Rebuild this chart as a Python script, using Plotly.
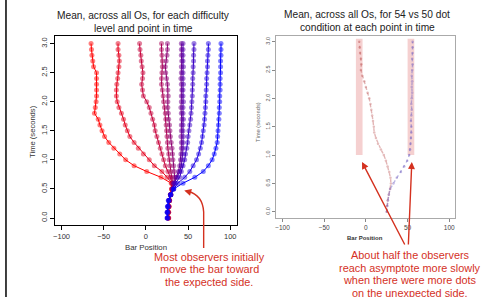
import plotly.graph_objects as go

W, H = 484, 297

# ---------------- data ----------------
time_s = [0.0, 0.1, 0.2, 0.3, 0.4, 0.5, 0.6, 0.7, 0.8, 0.9, 1.0, 1.1, 1.2, 1.3, 1.4, 1.5,
          1.6, 1.7, 1.8, 1.9, 2.0, 2.1, 2.2, 2.3, 2.4, 2.5, 2.6, 2.7, 2.8, 2.9, 3.0]

# left panel: mean bar position per difficulty level (red ... blue)
level_1 = [27, 27, 27.5, 28, 29, 30.5, 30, 18, 1, -14, -24, -31, -38, -44, -49, -52, -54.5, -56.5,
           -61, -60, -59, -58.5, -58.5, -58.5, -58.5, -58.5, -62, -63, -64, -64.5, -65]
level_2 = [27, 27, 27.5, 28, 29, 30.5, 31, 25, 19, 10, 4, -3, -9, -14, -19, -22, -24.5, -26.5,
           -29, -32, -34, -35, -35, -34.5, -33.5, -33, -32, -31.5, -32, -33, -33]
level_3 = [26.5, 26.5, 27, 28, 29, 31, 31, 29, 26, 23, 21, 19, 17, 15, 13, 11, 10, 8,
           6, 4, 1, -3, -4, -5, -4, -3.5, -4.5, -5.5, -6, -7, -7.5]
level_4 = [26.5, 26.5, 27, 28, 29.5, 31, 32, 30.5, 29.5, 28.5, 27.5, 27, 26, 25.5, 25, 24.5, 24, 23.5,
           23, 22, 21, 20.5, 19.5, 18.5, 18.5, 19, 19.5, 19.5, 19, 18.5, 18.5]
level_5 = [26, 26, 27, 28, 29.5, 31.5, 33, 34, 33.5, 33, 32, 31.5, 31, 30, 29, 28.5, 28, 27,
           26.5, 26, 26, 26.5, 26, 25.5, 24.5, 23.5, 23, 24, 25, 25.5, 25.5]
level_6 = [26, 26, 26.5, 27.5, 29.5, 32, 33, 36, 38.5, 40, 41, 41.5, 42, 42, 41.5, 42, 42, 42.5,
           42, 41.5, 42, 42, 42.5, 42, 41.5, 42, 42, 42.5, 42, 42, 42]
level_7 = [26, 26, 26.5, 27.5, 29.5, 32, 33.5, 37, 40, 42, 43, 43.5, 44, 44, 44.5, 44, 44, 44.5,
           44, 44, 44.5, 44, 44, 44.5, 44, 44, 44.5, 44, 44, 44, 44]
level_8 = [25.5, 25.5, 26, 27, 29.5, 32.5, 35, 40, 42, 44, 46, 47, 48.5, 49.5, 50, 51, 52, 53,
           53.5, 54, 54.5, 55, 55, 55.5, 55.5, 56, 56, 56.5, 56.5, 57, 57]
level_9 = [25.5, 25.5, 26, 27, 29.5, 33, 38, 46, 52, 56, 60, 62.5, 64.5, 66, 67, 68, 69, 69.5,
           70, 70.5, 71, 71, 71.5, 72, 72, 72.5, 73, 73, 73.5, 74, 74]
level_10 = [25, 25, 25.5, 26.5, 29, 33, 44, 58, 68, 74, 78.5, 81, 83, 84.5, 85, 85.5, 86, 86.5,
            87, 87, 87.5, 87.5, 88, 88, 88, 88.5, 88.5, 88.5, 89, 89, 89]
level_colors = ["#FF0000", "#E3001C", "#C60039", "#AA0055", "#8E0071",
                "#71008E", "#5500AA", "#3900C6", "#1C00E3", "#0000FF"]

# right panel: 54 vs 50 dot condition
cond_54_red = [25, 25.5, 26, 27.5, 29, 30, 29.5, 28, 26, 24, 21.5, 18, 14.5, 12, 10, 9.5, 8.5, 7.5,
               6.5, 5.5, 4, 2, 0, -2, -4.5, -6, -5.5, -6, -7, -7.5, -8]
cond_50_blue = [25, 25.5, 26.5, 27.5, 29, 33, 37, 42, 46, 49.5, 52, 53, 53.5, 54, 54.5, 54.5, 54, 54.5,
                55, 54.5, 55, 55.5, 55, 55.5, 55, 55.5, 56, 55.5, 56, 56, 56]
band_left_x = [-12, -4]
band_right_x = [50, 58]
band_time = [1.0, 3.05]

x_ticks = [-100, -50, 0, 50, 100]
y_ticks = [0.0, 0.5, 1.0, 1.5, 2.0, 2.5, 3.0]
y_tick_labels = ["0.0", "0.5", "1.0", "1.5", "2.0", "2.5", "3.0"]

FONT = "Liberation Sans, Arial, Helvetica, sans-serif"
RED = "#D4311F"


def px(x):
    return x / W


def py(y):
    return 1 - y / H


def rgba(hexc, a):
    h = hexc.lstrip("#")
    return "rgba(%d,%d,%d,%.2f)" % (int(h[0:2], 16), int(h[2:4], 16), int(h[4:6], 16), a)


fig = go.Figure()

levels = [level_1, level_2, level_3, level_4, level_5, level_6, level_7, level_8, level_9, level_10]
for vals, col in zip(levels, level_colors):
    fig.add_trace(go.Scatter(
        x=vals, y=time_s, mode="lines+markers",
        line=dict(color=col, width=1),
        marker=dict(color=rgba(col, 0.5), size=5, line=dict(width=0)),
        xaxis="x", yaxis="y", showlegend=False, hoverinfo="skip"))

fig.add_trace(go.Scatter(
    x=cond_54_red, y=time_s, mode="lines+markers",
    line=dict(color="rgba(200,110,110,0.5)", width=1.4, dash="dot"),
    marker=dict(color="rgba(190,90,90,0.4)", size=2.5),
    xaxis="x2", yaxis="y2", showlegend=False, hoverinfo="skip"))
fig.add_trace(go.Scatter(
    x=cond_50_blue, y=time_s, mode="lines+markers",
    line=dict(color="rgba(120,110,200,0.5)", width=1.4, dash="dot"),
    marker=dict(color="rgba(110,90,190,0.4)", size=2.5),
    xaxis="x2", yaxis="y2", showlegend=False, hoverinfo="skip"))

shapes = []
for bx in (band_left_x, band_right_x):
    shapes.append(dict(type="rect", xref="x2", yref="y2", x0=bx[0], x1=bx[1],
                       y0=band_time[0], y1=band_time[1],
                       fillcolor="rgba(236,170,170,0.55)", line=dict(width=0), layer="below"))
# slide left border
shapes.append(dict(type="line", xref="paper", yref="paper", x0=px(4), x1=px(4), y0=0, y1=1,
                   line=dict(color="black", width=1.5)))
# curved arrow body (left annotation)
path = "M %.4f,%.4f L %.4f,%.4f Q %.4f,%.4f %.4f,%.4f" % (
    px(202.5), py(248), px(202.5), py(212), px(201.5), py(195), px(187), py(191.5))
shapes.append(dict(type="path", xref="paper", yref="paper", path=path,
                   line=dict(color=RED, width=1.4)))

annotations = []


def text(x, y, s, size, color="#222", angle=0, bold=False):
    annotations.append(dict(
        x=px(x), y=py(y), xref="paper", yref="paper", text=("<b>%s</b>" % s) if bold else s,
        showarrow=False, xanchor="center", yanchor="middle", textangle=angle,
        font=dict(family=FONT, size=size, color=color)))


# titles
text(142, 15.5, "Mean, across all Os, for each difficulty", 10.2)
text(142, 28.5, "level and point in time", 10.2)
text(367, 14.5, "Mean, across all Os, for 54 vs 50 dot", 10.2)
text(367, 27.5, "condition at each point in time", 10.2)

# axis titles
text(30, 131, "Time (seconds)", 7.6, "#333", angle=-90)
text(145, 247, "Bar Position", 7.8, "#333")
text(257, 122, "Time (seconds)", 5.8, "#666", angle=-90)
text(365, 238, "Bar Position", 6, "#333", bold=True)

# red annotations
text(208, 256.5, "Most observers initially", 10.9, RED)
text(208, 269, "move the bar toward", 10.9, RED)
text(208, 281.5, "the expected side.", 10.9, RED)
text(410, 255, "About half the observers", 10.9, RED)
text(410, 267.5, "reach asymptote more slowly", 10.9, RED)
text(410, 280, "when there were more dots", 10.9, RED)
text(410, 292.5, "on the unexpected side.", 10.9, RED)


def arrow(tipx, tipy, tailx, taily):
    annotations.append(dict(
        x=px(tipx), y=py(tipy), xref="paper", yref="paper", text="", showarrow=True,
        ax=tailx - tipx, ay=taily - tipy, axref="pixel", ayref="pixel",
        arrowhead=2, arrowsize=1, arrowwidth=1.4, arrowcolor=RED, standoff=0))


arrow(183, 190.5, 190, 192.5)
arrow(361.5, 162, 405, 246)
arrow(411.5, 162, 408, 246)

ax_common = dict(showgrid=False, zeroline=False, ticks="outside", showline=True, mirror=True)

fig.update_layout(
    width=W, height=H, margin=dict(l=0, r=0, t=0, b=0),
    paper_bgcolor="white", plot_bgcolor="white",
    font=dict(family=FONT),
    xaxis=dict(domain=[px(53), px(236)], range=[-108, 108], tickvals=x_ticks,
               ticklen=4, tickwidth=1, tickcolor="black", linecolor="black", linewidth=1.3,
               tickfont=dict(size=7.5, color="#333"), anchor="y", **ax_common),
    yaxis=dict(domain=[py(225), py(36)], range=[-0.12, 3.13], tickvals=y_ticks,
               ticktext=y_tick_labels, tickangle=-90,
               ticklen=4, tickwidth=1, tickcolor="black", linecolor="black", linewidth=1.3,
               tickfont=dict(size=7.5, color="#333"), anchor="x", **ax_common),
    xaxis2=dict(domain=[px(275), px(455)], range=[-108, 107], tickvals=x_ticks,
                ticklen=3, tickwidth=1, tickcolor="#888", linecolor="#aaa", linewidth=1,
                tickfont=dict(size=6.5, color="#444"), anchor="y2", **ax_common),
    yaxis2=dict(domain=[py(218), py(36)], range=[-0.11, 3.1], tickvals=y_ticks,
                ticktext=y_tick_labels, tickangle=-90,
                ticklen=3, tickwidth=1, tickcolor="#888", linecolor="#aaa", linewidth=1,
                tickfont=dict(size=5.5, color="#555"), anchor="x2", **ax_common),
    shapes=shapes, annotations=annotations,
)

fig.write_html("out.html", config={"displayModeBar": False},
               post_script="document.body.style.margin='0';document.body.style.overflow='hidden';")
